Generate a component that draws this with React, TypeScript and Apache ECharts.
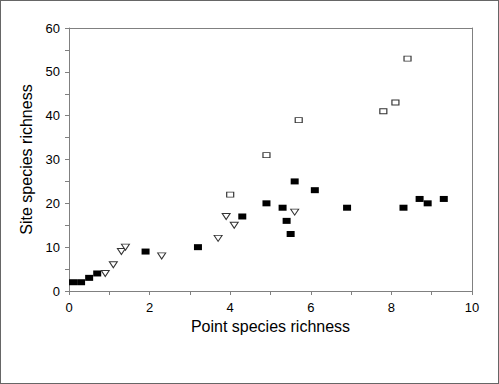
import React, { useEffect, useRef } from "react";
import * as echarts from "echarts";

const filledX = [0.1, 0.3, 0.5, 0.7, 1.9, 3.2, 4.3, 4.9, 5.3, 5.4, 5.5, 5.6, 6.1, 6.9, 8.3, 8.7, 8.9, 9.3];
const filledY = [2, 2, 3, 4, 9, 10, 17, 20, 19, 16, 13, 25, 23, 19, 19, 21, 20, 21];
const openSqX = [4.0, 4.9, 5.7, 7.8, 8.1, 8.4];
const openSqY = [22, 31, 39, 41, 43, 53];
const triX = [0.9, 1.1, 1.3, 1.4, 2.3, 3.7, 3.9, 4.1, 5.6];
const triY = [4, 6, 9, 10, 8, 12, 17, 15, 18];

const pairs = (xs: number[], ys: number[]) => xs.map((x, i) => [x, ys[i]]);

export default function App() {
  const ref = useRef<HTMLDivElement>(null);
  useEffect(() => {
    if (!ref.current) return;
    const chart = echarts.init(ref.current, null, { renderer: "svg" });
    const axisCol = "#808080";
    const font = "Arial, 'Liberation Sans', sans-serif";
    const frameAxis = {
      type: "value",
      axisLine: { show: true, onZero: false, lineStyle: { color: axisCol } },
      axisTick: { show: false },
      axisLabel: { show: false },
      splitLine: { show: false },
    };
    chart.setOption({
      animation: false,
      grid: { left: 69, top: 28, right: 27, bottom: 93 },
      xAxis: [
        {
          type: "value", min: 0, max: 10, interval: 2,
          name: "Point species richness", nameLocation: "middle", nameGap: 27,
          nameTextStyle: { fontFamily: font, fontSize: 16, color: "#000" },
          axisLine: { onZero: false, lineStyle: { color: axisCol } },
          axisTick: { show: true, length: 4, lineStyle: { color: axisCol } },
          minorTick: { show: true, splitNumber: 2, length: 4, lineStyle: { color: axisCol } },
          axisLabel: { fontFamily: font, fontSize: 13, color: "#000", margin: 10 },
          splitLine: { show: false },
        },
        { ...frameAxis, position: "top", min: 0, max: 10 },
      ],
      yAxis: [
        {
          type: "value", min: 0, max: 60, interval: 10,
          name: "Site species richness", nameLocation: "middle", nameGap: 30,
          nameTextStyle: { fontFamily: font, fontSize: 16, color: "#000" },
          axisLine: { show: true, onZero: false, lineStyle: { color: axisCol } },
          axisTick: { show: true, length: 4, lineStyle: { color: axisCol } },
          minorTick: { show: true, splitNumber: 2, length: 4, lineStyle: { color: axisCol } },
          axisLabel: { fontFamily: font, fontSize: 13, color: "#000", margin: 9 },
          splitLine: { show: false },
        },
        { ...frameAxis, position: "right", min: 0, max: 60 },
      ],
      series: [
        {
          type: "scatter", data: pairs(filledX, filledY), symbol: "rect", symbolSize: [8, 6],
          itemStyle: { color: "#000", opacity: 1 },
        },
        {
          type: "scatter", data: pairs(openSqX, openSqY), symbol: "rect", symbolSize: [7, 5],
          itemStyle: { color: "#fff", borderColor: "#333", borderWidth: 1, opacity: 1 },
        },
        {
          type: "scatter", data: pairs(triX, triY), symbol: "triangle", symbolRotate: 180, symbolSize: [8, 6],
          itemStyle: { color: "#fff", borderColor: "#333", borderWidth: 1, opacity: 1 },
        },
      ],
    });
    return () => chart.dispose();
  }, []);
  return (
    <div style={{ position: "fixed", left: 0, top: 0, width: 499, height: 384, background: "#fff" }}>
      <div ref={ref} style={{ position: "absolute", left: 0, top: 0, width: 499, height: 384 }} />
      <div style={{ position: "absolute", left: 0, top: 0, width: 499, height: 384, boxSizing: "border-box", border: "1px solid #666", pointerEvents: "none" }} />
    </div>
  );
}
